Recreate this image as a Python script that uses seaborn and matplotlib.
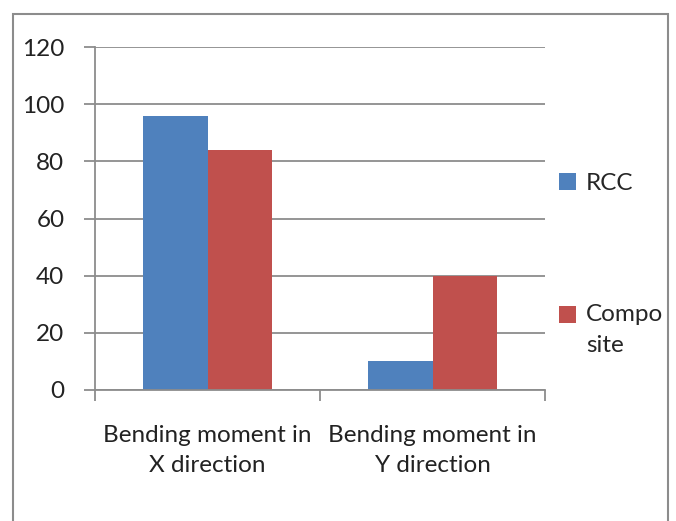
import matplotlib
matplotlib.use("Agg")
import matplotlib.pyplot as plt
import seaborn as sns
import pandas as pd
from matplotlib.patches import Rectangle
from matplotlib.legend_handler import HandlerPatch

categories = ["Bending moment in\nX direction", "Bending moment in\nY direction"]
series = ["RCC", "Compo\nsite"]
rcc_values = [96, 10]
composite_values = [84, 40]
y_ticks = [0, 20, 40, 60, 80, 100, 120]
colors = ["#4F81BD", "#C0504D"]

df = pd.DataFrame({
    "category": categories * 2,
    "series": [series[0]] * 2 + [series[1]] * 2,
    "value": rcc_values + composite_values,
})

sns.set_theme(style="white")
plt.rcParams["font.family"] = ["Lato", "DejaVu Sans"]

fig = plt.figure(figsize=(6.76, 5.21), dpi=100)
ax = fig.add_axes([95 / 676, 1 - 390 / 521, 450 / 676, 343 / 521])

sns.barplot(data=df, x="category", y="value", hue="series", palette=colors,
            width=0.57, saturation=1, ax=ax, legend=True, edgecolor="none")

grid_col = "#8C8C8C"
fs = 17.5
ax.set_ylim(0, 120)
ax.set_xlim(-0.5, 1.5)
ax.set_yticks(y_ticks)
ax.set_yticklabels([str(v) for v in y_ticks], fontsize=fs, color="#222222")
ax.yaxis.grid(True, color=grid_col, linewidth=1.3)
ax.set_axisbelow(True)
ax.set_xlabel("")
ax.set_ylabel("")
for s in ["top", "right"]:
    ax.spines[s].set_visible(False)
for s in ["left", "bottom"]:
    ax.spines[s].set_color(grid_col)
    ax.spines[s].set_linewidth(1.3)
ax.tick_params(axis="y", length=8, width=1.3, color=grid_col, pad=14, left=True)
ax.tick_params(axis="x", which="major", length=0, pad=25, labelsize=fs, labelcolor="#222222")
for t in ax.get_xticklabels():
    t.set_linespacing(1.55)
ax.set_xticks([-0.5, 0.5, 1.5], minor=True)
ax.tick_params(axis="x", which="minor", length=8, width=1.3, color=grid_col, bottom=True)


def make_shifted(offset):
    def patch_func(legend, orig_handle, xdescent, ydescent, width, height, fontsize):
        return Rectangle((-xdescent, -ydescent + offset), width, height)
    return patch_func


handles, labels = ax.get_legend_handles_labels()
handler_map = {handles[1]: HandlerPatch(patch_func=make_shifted(11.5))}
leg = ax.legend(handles, labels, loc="upper left", bbox_to_anchor=(1.01, 0.66),
                frameon=False, fontsize=fs, handlelength=0.7, handleheight=0.7,
                handletextpad=0.4, labelspacing=4.53, borderaxespad=0,
                handler_map=handler_map)
for t in leg.get_texts():
    t.set_linespacing(1.55)

fig.patches.append(Rectangle((13 / 676, -0.05), 655 / 676, 1.05 - 14 / 521,
                             transform=fig.transFigure, fill=False,
                             edgecolor="#8C8C8C", linewidth=1.5))

fig.savefig("out.png", dpi=100, facecolor="white")
